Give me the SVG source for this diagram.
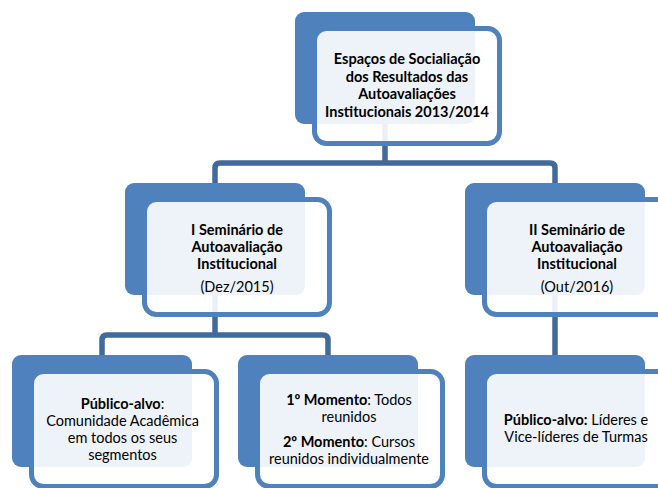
<svg xmlns="http://www.w3.org/2000/svg" width="658" height="488" viewBox="0 0 658 488">
<style>
.back{fill:#4f81bd}
.front{fill:#ffffff;fill-opacity:0.9;stroke:#4f81bd;stroke-width:5}
.conn{fill:none;stroke:#41699b;stroke-width:5.5;stroke-linejoin:round}
text{font-family:Lato,"Liberation Sans",sans-serif;font-size:14.5px;fill:#000;text-anchor:middle}
.b{font-weight:bold}
</style>
<rect width="658" height="488" fill="#ffffff"/>
<g id="connectors">
<path class="conn" d="M385,123 V163"/>
<path class="conn" d="M215,183 V168 Q215,163 220,163 H550 Q555,163 555,168 V183"/>
<path class="conn" d="M215,295 V335"/>
<path class="conn" d="M102,355 V340 Q102,335 107,335 H323 Q328,335 328,340 V355"/>
<path class="conn" d="M555,295 V355"/>
</g>
<g id="node-top">
<rect class="back" x="295" y="12" width="180" height="112" rx="9"/>
<rect class="front" x="314.5" y="28.5" width="185" height="115" rx="12"/>
<text class="b" x="407" y="64">Espaços de Socialiação</text>
<text class="b" x="407" y="81.6">dos Resultados das</text>
<text class="b" x="407" y="99.2">Autoavaliações</text>
<text class="b" x="407" y="116.8">Institucionais 2013/2014</text>
</g>
<g id="node-seminario-1">
<rect class="back" x="125" y="183" width="180" height="112" rx="9"/>
<rect class="front" x="144.5" y="199.5" width="185" height="115" rx="12"/>
<text class="b" x="237" y="235">I Seminário de</text>
<text class="b" x="237" y="252">Autoavaliação</text>
<text class="b" x="237" y="269">Institucional</text>
<text x="237" y="292">(Dez/2015)</text>
</g>
<g id="node-seminario-2">
<rect class="back" x="465" y="183" width="180" height="112" rx="9"/>
<rect class="front" x="484.5" y="199.5" width="185" height="115" rx="12"/>
<text class="b" x="577" y="235">II Seminário de</text>
<text class="b" x="577" y="252">Autoavaliação</text>
<text class="b" x="577" y="269">Institucional</text>
<text x="577" y="292">(Out/2016)</text>
</g>
<g id="node-publico-1">
<rect class="back" x="12" y="355" width="180" height="112" rx="9"/>
<rect class="front" x="31.5" y="371.5" width="185" height="115" rx="12"/>
<text x="122.5" y="409"><tspan class="b">Público-alvo</tspan>:</text>
<text x="122.5" y="426">Comunidade Acadêmica</text>
<text x="122.5" y="443">em todos os seus</text>
<text x="122.5" y="460">segmentos</text>
</g>
<g id="node-momentos">
<rect class="back" x="238" y="355" width="180" height="112" rx="9"/>
<rect class="front" x="257.5" y="371.5" width="185" height="115" rx="12"/>
<text x="349" y="405"><tspan class="b">1º Momento</tspan>: Todos</text>
<text x="349" y="422">reunidos</text>
<text x="349" y="447"><tspan class="b">2º Momento</tspan>: Cursos</text>
<text x="349" y="464">reunidos individualmente</text>
</g>
<g id="node-publico-2">
<rect class="back" x="465" y="355" width="180" height="112" rx="9"/>
<rect class="front" x="484.5" y="371.5" width="185" height="115" rx="12"/>
<text x="576" y="425"><tspan class="b">Público-alvo:</tspan> Líderes e</text>
<text x="576" y="442">Vice-líderes de Turmas</text>
</g>
</svg>
